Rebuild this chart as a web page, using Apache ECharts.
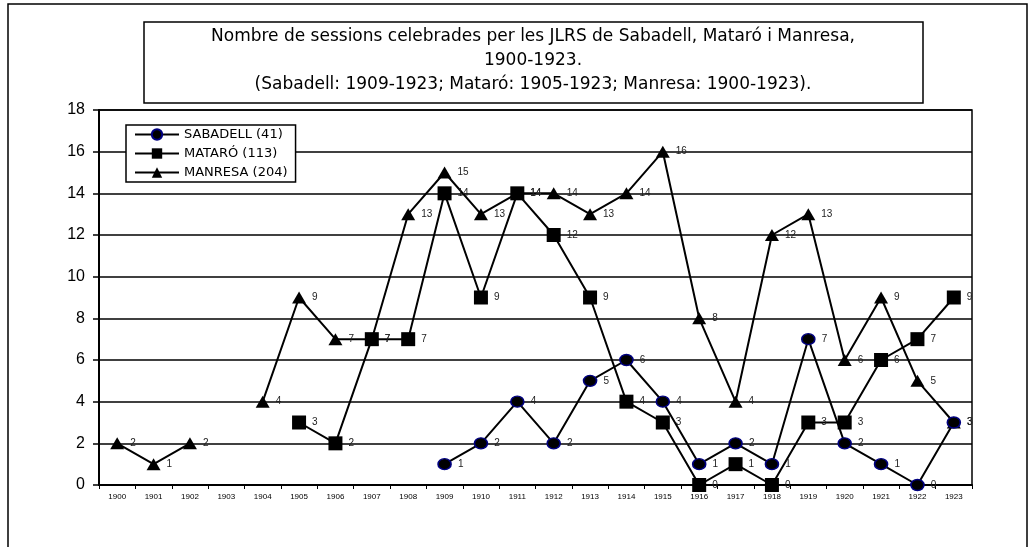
<!DOCTYPE html>
<html>
<head>
<meta charset="utf-8">
<style>
  html, body { margin: 0; padding: 0; background: #fff; }
  #chart { width: 1029px; height: 547px; }
</style>
<script src="https://cdn.jsdelivr.net/npm/echarts@6/dist/echarts.min.js"></script>
</head>
<body>
<div id="chart"></div>
<script>
var years = ['1900', '1901', '1902', '1903', '1904', '1905', '1906', '1907', '1908', '1909', '1910', '1911',
    '1912', '1913', '1914', '1915', '1916', '1917', '1918', '1919', '1920', '1921', '1922', '1923'];

// sessions per year (null = no data)
var sabadell = [null, null, null, null, null, null, null, null, null, 1, 2, 4, 2, 5, 6, 4, 1, 2, 1, 7, 2, 1, 0, 3];
var mataro = [null, null, null, null, null, 3, 2, 7, 7, 14, 9, 14, 12, 9, 4, 3, 0, 1, 0, 3, 3, 6, 7, 9];
var manresa = [2, 1, 2, null, 4, 9, 7, 7, 13, 15, 13, 14, 14, 13, 14, 16, 8, 4, 12, 13, 6, 9, 5, 3];

var seriesNames = ['SABADELL (41)', 'MATARÓ (113)', 'MANRESA (204)'];
var titleLines = [
    'Nombre de sessions celebrades per les JLRS de Sabadell, Mataró i Manresa,',
    '1900-1923.',
    '(Sabadell: 1909-1923; Mataró: 1905-1923; Manresa: 1900-1923).'
];

var myChart = echarts.init(document.getElementById('chart'));

var labelStyle = {
    show: true,
    position: 'right',
    distance: 6,
    fontSize: 10,
    color: '#222',
    fontFamily: 'Liberation Sans, Arial, sans-serif'
};

var option = {
    animation: false,
    backgroundColor: '#fff',
    graphic: [
        {
            type: 'rect',
            shape: { x: 8, y: 4, width: 1019, height: 600 },
            style: { fill: 'none', stroke: '#000', lineWidth: 1.5 },
            silent: true
        },
        {
            type: 'rect',
            shape: { x: 144, y: 22, width: 779, height: 81 },
            style: { fill: '#fff', stroke: '#000', lineWidth: 1.5 },
            silent: true
        },
        {
            type: 'text',
            x: 533,
            y: 25,
            style: {
                text: titleLines.join('\n'),
                textAlign: 'center',
                fontSize: 17,
                lineHeight: 24,
                fontFamily: 'DejaVu Sans, sans-serif',
                fill: '#000'
            },
            silent: true
        }
    ],
    legend: {
        orient: 'vertical',
        left: 126,
        top: 125,
        z: 10,
        data: seriesNames,
        backgroundColor: '#fff',
        borderColor: '#000',
        borderWidth: 1.5,
        padding: [3, 8, 3, 8],
        itemGap: 6,
        itemWidth: 44,
        itemHeight: 13,
        textStyle: {
            fontSize: 13,
            color: '#000',
            fontFamily: 'DejaVu Sans, sans-serif'
        }
    },
    grid: {
        left: 99,
        right: 57,
        top: 110,
        bottom: 62,
        show: true,
        borderColor: '#000',
        borderWidth: 1.5
    },
    xAxis: {
        type: 'category',
        data: years,
        axisLine: { lineStyle: { color: '#000', width: 2 } },
        axisTick: { show: true, length: 4, lineStyle: { color: '#000' } },
        axisLabel: {
            fontSize: 8,
            color: '#000',
            margin: 8,
            fontFamily: 'Liberation Sans, Arial, sans-serif'
        }
    },
    yAxis: {
        type: 'value',
        min: 0,
        max: 18,
        interval: 2,
        axisLine: { show: true, lineStyle: { color: '#000', width: 2 } },
        axisTick: { show: true, length: 6, lineStyle: { color: '#000', width: 1.5 } },
        axisLabel: {
            fontSize: 16,
            color: '#000',
            margin: 14,
            fontFamily: 'Liberation Sans, Arial, sans-serif'
        },
        splitLine: { lineStyle: { color: '#000', width: 1.5 } }
    },
    series: [
        {
            name: seriesNames[0],
            type: 'line',
            z: 5,
            data: sabadell,
            symbol: 'circle',
            symbolSize: [13, 11],
            itemStyle: { color: '#000', borderColor: '#000080', borderWidth: 1.5 },
            lineStyle: { color: '#000', width: 2 },
            label: labelStyle
        },
        {
            name: seriesNames[1],
            type: 'line',
            z: 4,
            data: mataro,
            symbol: 'rect',
            symbolSize: 14,
            itemStyle: { color: '#000' },
            lineStyle: { color: '#000', width: 2 },
            label: labelStyle
        },
        {
            name: seriesNames[2],
            type: 'line',
            z: 3,
            data: manresa,
            symbol: 'triangle',
            symbolSize: [14, 12],
            itemStyle: { color: '#000' },
            lineStyle: { color: '#000', width: 2 },
            label: labelStyle
        }
    ]
};

myChart.setOption(option);
</script>
</body>
</html>
